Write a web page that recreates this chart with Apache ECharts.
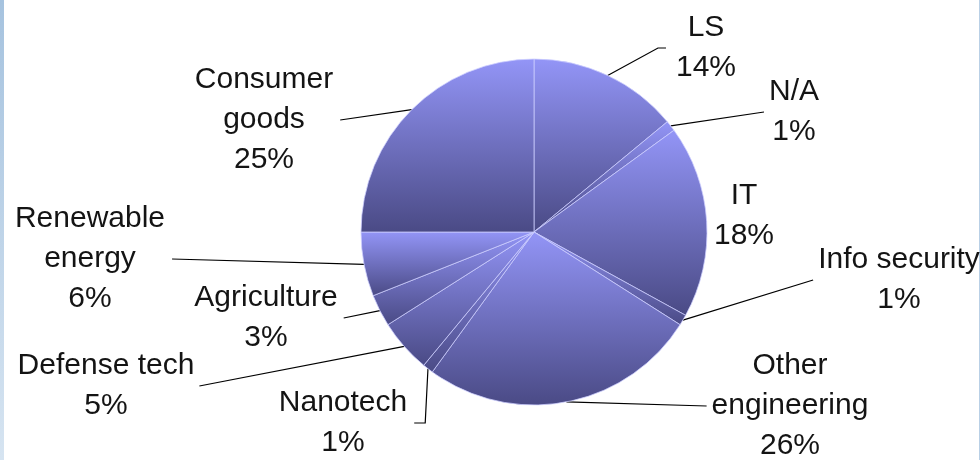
<!DOCTYPE html>
<html>
<head>
<meta charset="utf-8">
<script src="https://cdn.jsdelivr.net/npm/echarts@6/dist/echarts.min.js"></script>
<style>
  html, body { margin: 0; padding: 0; background: #ffffff; }
  #chart { width: 980px; height: 460px; }
</style>
</head>
<body>
<div id="chart"></div>
<script>
// Sectors, clockwise from 12 o'clock
const sectors = ['LS', 'N/A', 'IT', 'Info security', 'Other engineering',
                 'Nanotech', 'Defense tech', 'Agriculture', 'Renewable energy', 'Consumer goods'];
// Share of each sector (%)
const shares = [14, 1, 18, 1, 26, 1, 5, 3, 6, 25];
// How each sector name wraps in its label
const labelNames = ['LS', 'N/A', 'IT', 'Info security', 'Other\nengineering',
                    'Nanotech', 'Defense tech', 'Agriculture', 'Renewable\nenergy', 'Consumer\ngoods'];

// Label placement: centre of the text block, the side the leader line meets,
// the gap to the text and an optional knee offset from the line's end.
const placement = {
  'LS':                { x: 706, y: 48,  side: 'left',  gap: 10, knee: [-8, 0] },
  'N/A':               { x: 794, y: 112, side: 'left',  gap: 5 },
  'IT':                { x: 744, y: 216, side: null },
  'Info security':     { x: 899, y: 280, side: 'left',  gap: 5 },
  'Other engineering': { x: 790, y: 406, side: 'left',  gap: 5 },
  'Nanotech':          { x: 343, y: 423, side: 'right', gap: 7, knee: [11, 0] },
  'Defense tech':      { x: 106, y: 386, side: 'right', gap: 5 },
  'Agriculture':       { x: 266, y: 318, side: 'right', gap: 6 },
  'Renewable energy':  { x: 90,  y: 259, side: 'right', gap: 7 },
  'Consumer goods':    { x: 264, y: 120, side: 'right', gap: 7 }
};

const chart = echarts.init(document.getElementById('chart'), null, { renderer: 'canvas' });

function sliceFill() {
  return new echarts.graphic.LinearGradient(0, 0, 0, 1, [
    { offset: 0, color: '#9395f7' },
    { offset: 1, color: '#4a4a85' }
  ]);
}

const pieData = sectors.map((name, i) => ({
  name: name,
  value: shares[i],
  itemStyle: { color: sliceFill() },
  labelLine: { show: placement[name].side !== null }
}));

chart.setOption({
  backgroundColor: '#ffffff',
  animation: false,
  graphic: [
    {
      type: 'rect', silent: true,
      shape: { x: 0, y: 0, width: 4, height: 460 },
      style: {
        fill: new echarts.graphic.LinearGradient(0, 0, 0, 1, [
          { offset: 0, color: '#a6c3df' },
          { offset: 1, color: '#d6e4f1' }
        ])
      }
    },
    {
      type: 'rect', silent: true,
      shape: { x: 979, y: 0, width: 1, height: 460 },
      style: { fill: '#b9d0e6' }
    }
  ],
  series: [{
    type: 'pie',
    center: [534, 232],
    radius: 173,
    startAngle: 90,
    clockwise: true,
    avoidLabelOverlap: false,
    data: pieData,
    itemStyle: {
      borderColor: 'rgba(205,207,255,0.75)',
      borderWidth: 1
    },
    label: {
      show: true,
      position: 'outside',
      formatter: p => labelNames[p.dataIndex] + '\n' + p.value + '%',
      fontFamily: 'Liberation Sans, Arial, sans-serif',
      fontSize: 30,
      lineHeight: 40,
      color: '#141414',
      align: 'center'
    },
    labelLine: {
      show: true,
      lineStyle: { color: '#000000', width: 1.2 }
    },
    emphasis: { disabled: true },
    labelLayout: function (params) {
      const name = sectors[params.dataIndex];
      const p = placement[name];
      const out = { x: p.x, y: p.y, align: 'center', verticalAlign: 'middle' };
      if (p.side && params.labelLinePoints) {
        const start = params.labelLinePoints[0];
        const halfW = params.labelRect.width / 2;
        const endX = p.side === 'left' ? p.x - halfW - p.gap : p.x + halfW + p.gap;
        const end = [endX, p.y];
        const pts = [[start[0], start[1]]];
        if (p.knee) pts.push([end[0] + p.knee[0], end[1] + p.knee[1]]);
        pts.push(end);
        out.labelLinePoints = pts;
      }
      return out;
    }
  }]
});
</script>
</body>
</html>
